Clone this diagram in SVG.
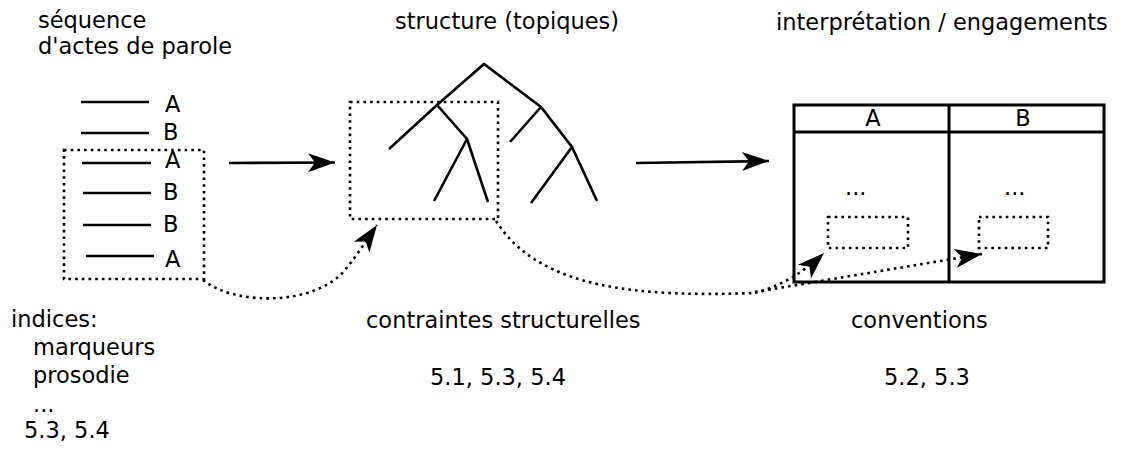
<svg xmlns="http://www.w3.org/2000/svg" width="1121" height="452" viewBox="0 0 1121 452">
<style>
text{font-family:"DejaVu Sans","Liberation Sans",sans-serif;font-size:22.5px;fill:#000}
.s{stroke:#000;stroke-width:2.6;fill:none}
.d{stroke:#000;stroke-width:2.6;fill:none;stroke-dasharray:2.6 4.1}
.t{stroke:#000;stroke-width:3;fill:none}
</style>
<defs>
<marker id="ah" markerUnits="userSpaceOnUse" markerWidth="32" markerHeight="24" viewBox="-28 -12 32 24" refX="0" refY="0" orient="auto" overflow="visible">
<path d="M0,0 L-27,-9.5 L-20,0 L-27,9.5 z" fill="#000"/>
</marker>
</defs>
<rect width="1121" height="452" fill="#fff"/>

<g id="sequence">
<text x="38" y="28">séquence</text>
<text x="38" y="54">d'actes de parole</text>
<line class="s" x1="81" y1="102" x2="149" y2="102"/><text x="165" y="112">A</text>
<line class="s" x1="81" y1="133" x2="149" y2="133"/><text x="163" y="140">B</text>
<line class="s" x1="82" y1="163" x2="151" y2="163"/><text x="165" y="168">A</text>
<line class="s" x1="83" y1="193" x2="151" y2="193"/><text x="163" y="200">B</text>
<line class="s" x1="83" y1="225" x2="151" y2="225"/><text x="163" y="232">B</text>
<line class="s" x1="86" y1="256" x2="154" y2="256"/><text x="165" y="267">A</text>
<rect class="d" x="64" y="150" width="140" height="129"/>
</g>

<g id="indices">
<text x="11" y="327">indices:</text>
<text x="33" y="355">marqueurs</text>
<text x="33" y="383">prosodie</text>
<text x="33" y="412">...</text>
<text x="24" y="438">5.3, 5.4</text>
</g>

<g id="structure">
<text x="395" y="29">structure (topiques)</text>
<path class="s" d="M389 149 L437 105 L484 64 L541 107 L572 147 L597 201 M437 105 L467 139 L488 202 M467 139 L434 201 M541 107 L510 142 M572 147 L531 203"/>
<rect class="d" x="350" y="102" width="148" height="117"/>
</g>

<g id="contraintes">
<text x="366" y="328">contraintes structurelles</text>
<text x="430" y="385">5.1, 5.3, 5.4</text>
</g>

<g id="interpretation">
<text x="776" y="30">interprétation / engagements</text>
<rect class="t" x="794" y="105" width="310" height="177"/>
<line class="t" x1="794" y1="132" x2="1104" y2="132"/>
<line class="t" x1="949" y1="105" x2="949" y2="282"/>
<text x="873" y="126" text-anchor="middle">A</text>
<text x="1023" y="126" text-anchor="middle">B</text>
<text x="845" y="195">...</text>
<text x="1004" y="195">...</text>
<rect class="d" x="828" y="217" width="80" height="31"/>
<rect class="d" x="979" y="217" width="69" height="31"/>
</g>

<g id="conventions">
<text x="851" y="328">conventions</text>
<text x="884" y="385">5.2, 5.3</text>
</g>

<g id="connectors">
<line class="s" x1="229" y1="163" x2="335" y2="162.5" marker-end="url(#ah)"/>
<line class="s" x1="636" y1="163" x2="769" y2="161" marker-end="url(#ah)"/>
<path class="d" d="M203 280 C235 306 315 306 345 270 C358 254 368 238 377 225" marker-end="url(#ah)"/>
<path class="d" d="M496 221 C540 290 640 297 755 293"/>
<path class="d" d="M755 293 C778 287 802 274 824 253" marker-end="url(#ah)"/>
<path class="d" d="M755 292 L982 254" marker-end="url(#ah)"/>
</g>
</svg>
